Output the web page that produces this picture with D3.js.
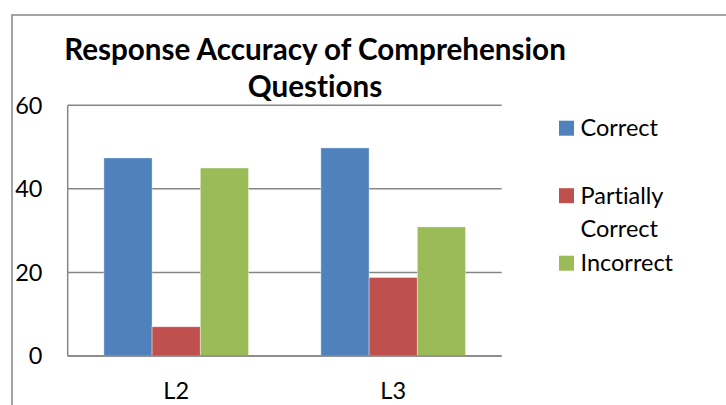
<!DOCTYPE html>
<html>
<head>
<meta charset="utf-8">
<script src="https://cdn.jsdelivr.net/npm/d3@7"></script>
<style>
  html, body { margin: 0; padding: 0; background: #fff; }
  svg { display: block; }
  text { font-family: Lato, "Liberation Sans", sans-serif; fill: #000; font-variant-ligatures: none; }
</style>
</head>
<body>
<svg id="chart" width="726" height="405"></svg>
<script>
// ---- data ----
const categories = ["L2", "L3"];
const seriesNames = ["Correct", "Partially Correct", "Incorrect"];
const correctValues = [47.4, 49.8];
const partiallyCorrectValues = [7.0, 18.8];
const incorrectValues = [45.0, 30.9];
const yTicks = [0, 20, 40, 60];
const titleLines = ["Response Accuracy of Comprehension", "Questions"];
const legendLines = [["Correct"], ["Partially", "Correct"], ["Incorrect"]];
const seriesColors = ["#4F81BD", "#C0504D", "#9BBB59"];

const seriesValues = [correctValues, partiallyCorrectValues, incorrectValues];

// ---- layout ----
const W = 726, H = 405;
const plot = { left: 67.7, right: 501.7, top: 105.3, bottom: 356 };
const labelSize = "23.5px";

const svg = d3.select("#chart");

// outer frame (extends past the window on right/bottom)
svg.append("rect")
  .attr("x", 12).attr("y", 15)
  .attr("width", W + 20).attr("height", H + 20)
  .attr("fill", "#fff")
  .attr("stroke", "#868686").attr("stroke-width", 1.5);

const y = d3.scaleLinear().domain([0, 60]).range([plot.bottom, plot.top]);
const x0 = d3.scaleBand().domain(categories).range([plot.left, plot.right]).padding(0);
const x1 = d3.scaleBand().domain(seriesNames).range([0, x0.bandwidth()])
  .paddingInner(0).paddingOuter(0.75);
const color = d3.scaleOrdinal().domain(seriesNames).range(seriesColors);

// gridlines
svg.append("g")
  .selectAll("line")
  .data(yTicks)
  .join("line")
  .attr("x1", plot.left).attr("x2", plot.right)
  .attr("y1", d => y(d)).attr("y2", d => y(d))
  .attr("stroke", "#868686").attr("stroke-width", 1.5);

// y axis line
svg.append("line")
  .attr("x1", plot.left).attr("x2", plot.left)
  .attr("y1", plot.top).attr("y2", plot.bottom)
  .attr("stroke", "#868686").attr("stroke-width", 1.5);

// y tick labels
svg.append("g")
  .selectAll("text")
  .data(yTicks)
  .join("text")
  .attr("x", 42.5)
  .attr("y", d => y(d))
  .attr("dy", "0.36em")
  .attr("text-anchor", "end")
  .style("font-size", labelSize)
  .text(d => d);

// bars
const rows = categories.map((c, i) => ({ cat: c, vals: seriesNames.map((s, j) => ({ s, v: seriesValues[j][i] })) }));
svg.append("g")
  .selectAll("g")
  .data(rows)
  .join("g")
  .attr("transform", d => `translate(${x0(d.cat)},0)`)
  .selectAll("rect")
  .data(d => d.vals)
  .join("rect")
  .attr("x", d => x1(d.s))
  .attr("y", d => y(d.v))
  .attr("width", x1.bandwidth())
  .attr("height", d => y(0) - y(d.v))
  .attr("fill", d => color(d.s))
  .attr("stroke", "rgba(255,255,255,0.5)")
  .attr("stroke-width", 0.8);

// redraw baseline over bars
svg.append("line")
  .attr("x1", plot.left).attr("x2", plot.right)
  .attr("y1", y(0)).attr("y2", y(0))
  .attr("stroke", "#868686").attr("stroke-width", 1.5);

// x labels
svg.append("g")
  .selectAll("text")
  .data(categories)
  .join("text")
  .attr("x", d => x0(d) + x0.bandwidth() / 2)
  .attr("y", 398.5)
  .attr("text-anchor", "middle")
  .style("font-size", labelSize)
  .text(d => d);

// title
const title = svg.append("text")
  .attr("text-anchor", "middle")
  .style("font-weight", "bold")
  .style("font-size", "30px");
title.selectAll("tspan")
  .data(titleLines)
  .join("tspan")
  .attr("x", 315)
  .attr("y", (d, i) => 59.5 + i * 37.5)
  .text(d => d);
// fit width of first line to reference (~502px)
const firstLen = title.select("tspan").node().getComputedTextLength();
title.style("font-size", (30 * 502 / firstLen) + "px");

// legend
const legend = svg.append("g");
const entries = legend.selectAll("g")
  .data(seriesNames)
  .join("g")
  .attr("transform", (d, i) => `translate(559, ${136 + i * 67.5})`);
entries.append("rect")
  .attr("x", 0).attr("y", -15.3)
  .attr("width", 15).attr("height", 15)
  .attr("fill", d => color(d));
entries.append("text")
  .style("font-size", labelSize)
  .selectAll("tspan")
  .data((d, i) => legendLines[i])
  .join("tspan")
  .attr("x", 21.5)
  .attr("y", (d, i) => i * 33.5)
  .text(d => d);
</script>
</body>
</html>
